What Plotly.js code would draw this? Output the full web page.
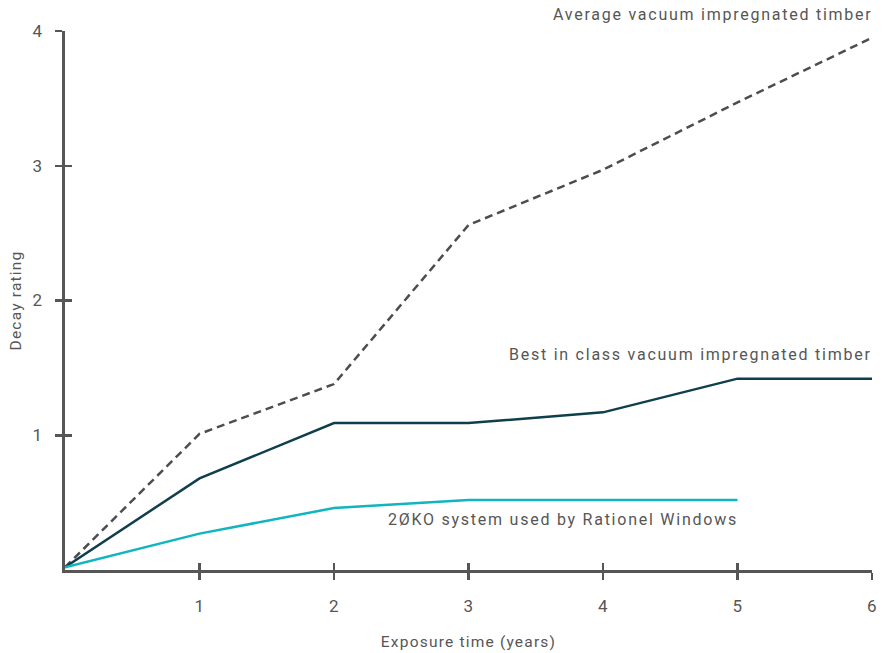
<!DOCTYPE html>
<html><head><meta charset="utf-8">
<script src="https://cdn.plot.ly/plotly-3.0.1.min.js"></script>
<style>
body{margin:0;background:#fff}
.annotation-text{letter-spacing:1.75px}
.xtitle, .ytitle{letter-spacing:1.2px}
#chart .xtick text, #chart .ytick text{letter-spacing:0.5px}
</style>
</head><body><div id="chart" style="width:884px;height:653px"></div>
<script>
const years = [0, 1, 2, 3, 4, 5, 6];
const avgVacuum = [0.02, 1.01, 1.38, 2.56, 2.97, 3.47, 3.95];
const bestVacuum = [0.02, 0.68, 1.09, 1.09, 1.17, 1.42, 1.42];
const zokoYears = [0, 1, 2, 3, 4, 5];
const zokoSystem = [0.02, 0.27, 0.46, 0.52, 0.52, 0.52];
const xTicks = [1, 2, 3, 4, 5, 6];
const yTicks = [1, 2, 3, 4];
const labels = ["Average vacuum impregnated timber", "Best in class vacuum impregnated timber", "2ØKO system used by Rationel Windows"];

const font = "Roboto, 'DejaVu Sans', sans-serif";
const grey = "#565656";

const traces = [
  {x: years, y: avgVacuum, mode: "lines", line: {color: "#4d4d4f", width: 2.5, dash: "8px,5px"}, hoverinfo: "skip"},
  {x: years, y: bestVacuum, mode: "lines", line: {color: "#0f3f4c", width: 2.5}, hoverinfo: "skip"},
  {x: zokoYears, y: zokoSystem, mode: "lines", line: {color: "#10b5bf", width: 2.5}, hoverinfo: "skip"},
  {x: [0], y: [0], xaxis: "x2", yaxis: "y2", mode: "markers", marker: {opacity: 0}, hoverinfo: "skip"}
];

const axCommon = {showgrid: false, zeroline: false, showline: true, linecolor: grey, linewidth: 3, tickcolor: grey, tickwidth: 2.5, ticklen: 7};

const layout = {
  width: 884, height: 653,
  margin: {l: 65, r: 12, t: 31, b: 83},
  paper_bgcolor: "#fff", plot_bgcolor: "#fff",
  showlegend: false,
  font: {family: font, color: grey, size: 15},
  xaxis: Object.assign({}, axCommon, {range: [0, 6], tickvals: xTicks, ticktext: xTicks.map(String), ticks: "outside", ticklabelstandoff: 12,
    tickfont: {size: 17, color: grey}, title: {text: "Exposure time (years)", standoff: 21, font: {size: 15.5, color: grey}}}),
  yaxis: Object.assign({}, axCommon, {range: [0, 4], tickvals: yTicks, ticktext: yTicks.map(String), ticks: "outside", ticklabelstandoff: 9,
    tickfont: {size: 17, color: grey}, title: {text: "Decay rating", standoff: 8, font: {size: 15.5, color: grey}}}),
  xaxis2: Object.assign({}, axCommon, {overlaying: "x", anchor: "y2", range: [0, 6], tickvals: xTicks, ticks: "inside", showticklabels: false}),
  yaxis2: Object.assign({}, axCommon, {overlaying: "y", anchor: "x2", range: [0, 4], tickvals: yTicks, ticks: "inside", showticklabels: false}),
  annotations: [
    {x: 6, y: 4, xref: "x", yref: "y", text: labels[0], showarrow: false, xanchor: "right", yanchor: "bottom", yshift: 5, xshift: 2, font: {size: 16, color: grey}},
    {x: 6, y: 1.42, xref: "x", yref: "y", text: labels[1], showarrow: false, xanchor: "right", yanchor: "bottom", yshift: 13, xshift: 2, font: {size: 16, color: grey}},
    {x: 5, y: 0.52, xref: "x", yref: "y", text: labels[2], showarrow: false, xanchor: "right", yanchor: "top", yshift: -8, xshift: 2, font: {size: 16, color: grey}}
  ]
};

Plotly.newPlot("chart", traces, layout, {staticPlot: true, displayModeBar: false});
</script></body></html>
